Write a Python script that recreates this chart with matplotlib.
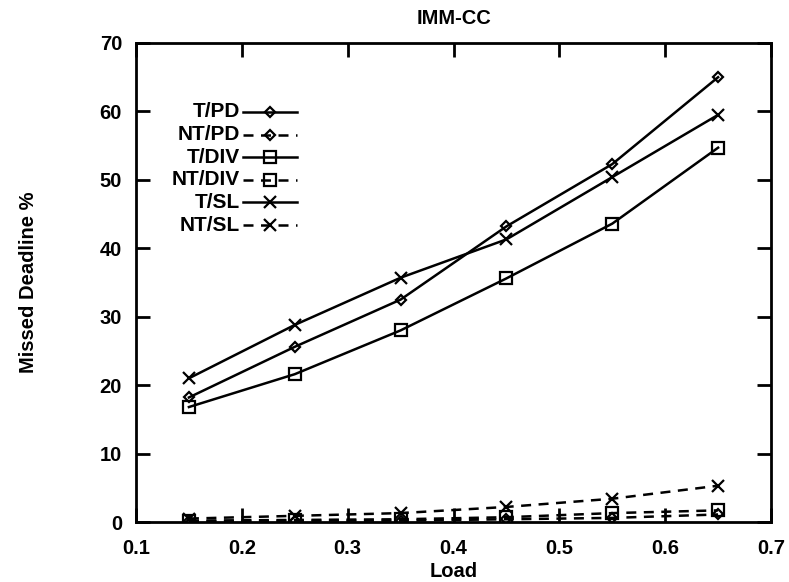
import matplotlib
matplotlib.use("Agg")
import matplotlib.pyplot as plt
from matplotlib.lines import Line2D

plt.rcParams['font.family'] = ['Liberation Sans', 'DejaVu Sans']
plt.rcParams['font.weight'] = 'bold'
plt.rcParams['axes.labelweight'] = 'bold'
plt.rcParams['axes.titleweight'] = 'bold'

load = [0.15, 0.25, 0.35, 0.45, 0.55, 0.65]
t_pd = [18.2, 25.6, 32.5, 43.2, 52.3, 65.0]
nt_pd = [0.1, 0.2, 0.2, 0.4, 0.6, 1.1]
t_div = [16.8, 21.6, 28.0, 35.6, 43.6, 54.7]
nt_div = [0.2, 0.3, 0.4, 0.7, 1.3, 1.7]
t_sl = [21.0, 28.8, 35.7, 41.3, 50.4, 59.5]
nt_sl = [0.5, 0.9, 1.3, 2.2, 3.4, 5.3]

labels = ['T/PD', 'NT/PD', 'T/DIV', 'NT/DIV', 'T/SL', 'NT/SL']
series = [t_pd, nt_pd, t_div, nt_div, t_sl, nt_sl]
markers = ['D', 'D', 's', 's', 'x', 'x']
msizes = [5, 5, 8, 8, 9, 9]
dashed = [False, True, False, True, False, True]

fig = plt.figure(figsize=(7.89, 5.82), dpi=100)
ax = fig.add_axes([136/789, 1-522/582, 635/789, 479/582])

for y, lab, m, ms, d in zip(series, labels, markers, msizes, dashed):
    ls = (0, (4, 3)) if d else '-'
    ax.plot(load, y, color='black', lw=1.8, ls=ls, marker=m, ms=ms,
            mfc='none', mec='black', mew=1.6)

# gnuplot-style key: right-aligned text, sample line after it
for i, (lab, m, ms, d) in enumerate(zip(labels, markers, msizes, dashed)):
    yy = 0.856 - i*0.0472
    ax.text(0.164, yy, lab, transform=ax.transAxes, ha='right', va='center',
            fontsize=15)
    ls = (0, (4, 3)) if d else '-'
    ax.add_line(Line2D([0.168, 0.254], [yy, yy], transform=ax.transAxes,
                       color='black', lw=1.8, ls=ls))
    ax.add_line(Line2D([0.211], [yy], transform=ax.transAxes, color='black',
                       marker=m, ms=ms, mfc='none', mec='black', mew=1.6))

ax.set_xlim(0.1, 0.7)
ax.set_ylim(0, 70)
ax.set_xticks([0.1, 0.2, 0.3, 0.4, 0.5, 0.6, 0.7])
ax.set_yticks(range(0, 71, 10))
ax.tick_params(direction='in', length=10, width=2, labelsize=14.5,
               top=True, right=True)
ax.tick_params(axis='x', pad=12)
ax.tick_params(axis='y', pad=10)
for s in ax.spines.values():
    s.set_linewidth(2)
ax.set_xlabel('Load', fontsize=14.5)
ax.xaxis.set_label_coords(0.5, -0.083)
ax.set_ylabel('Missed Deadline %', fontsize=14.5)
ax.yaxis.set_label_coords(-0.154, 0.5)
ax.set_title('IMM-CC', fontsize=14.5, pad=14)

fig.savefig('out.png', dpi=100)
